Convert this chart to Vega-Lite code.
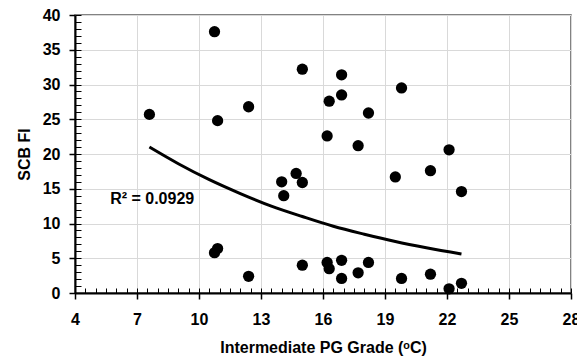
{
  "$schema": "https://vega.github.io/schema/vega-lite/v6.json",
  "width": 496,
  "height": 278,
  "autosize": "none",
  "padding": {"left": 75, "top": 15, "right": 6, "bottom": 69},
  "background": "white",
  "config": {
    "view": {"stroke": "#595959", "strokeWidth": 1.5},
    "font": "Liberation Sans"
  },
  "datasets": {
    "points": [
      {"grade": 7.6, "fi": 25.7}, {"grade": 10.75, "fi": 37.6}, {"grade": 10.9, "fi": 24.8},
      {"grade": 12.4, "fi": 26.8}, {"grade": 15.0, "fi": 32.2}, {"grade": 16.9, "fi": 31.4},
      {"grade": 19.8, "fi": 29.5}, {"grade": 16.3, "fi": 27.6}, {"grade": 16.9, "fi": 28.5},
      {"grade": 18.2, "fi": 25.9}, {"grade": 16.2, "fi": 22.6}, {"grade": 17.7, "fi": 21.2},
      {"grade": 22.1, "fi": 20.6}, {"grade": 14.0, "fi": 16.0}, {"grade": 14.7, "fi": 17.2},
      {"grade": 15.0, "fi": 15.9}, {"grade": 14.1, "fi": 14.0}, {"grade": 19.5, "fi": 16.7},
      {"grade": 21.2, "fi": 17.6}, {"grade": 22.7, "fi": 14.6}, {"grade": 15.0, "fi": 4.0},
      {"grade": 16.2, "fi": 4.4}, {"grade": 16.3, "fi": 3.5}, {"grade": 16.9, "fi": 4.7},
      {"grade": 16.9, "fi": 2.1}, {"grade": 17.7, "fi": 2.9}, {"grade": 18.2, "fi": 4.4},
      {"grade": 19.8, "fi": 2.1}, {"grade": 21.2, "fi": 2.7}, {"grade": 22.1, "fi": 0.6},
      {"grade": 22.7, "fi": 1.4}, {"grade": 10.75, "fi": 5.8}, {"grade": 10.9, "fi": 6.4},
      {"grade": 12.4, "fi": 2.4}
    ],
    "trend": [
      {"grade": 7.6, "fi": 21.0}, {"grade": 9.0, "fi": 18.6}, {"grade": 10.5, "fi": 16.3},
      {"grade": 12.0, "fi": 14.3}, {"grade": 13.5, "fi": 12.5}, {"grade": 15.0, "fi": 11.0},
      {"grade": 16.5, "fi": 9.6}, {"grade": 18.0, "fi": 8.45}, {"grade": 19.5, "fi": 7.4},
      {"grade": 21.0, "fi": 6.5}, {"grade": 22.7, "fi": 5.6}
    ],
    "note": [{"label": "R² = 0.0929", "gx": 5.7, "fy": 13.5}]
  },
  "layer": [
    {
      "data": {"name": "points"},
      "mark": {"type": "circle", "size": 127, "color": "black", "opacity": 1},
      "encoding": {
        "x": {
          "field": "grade", "type": "quantitative",
          "scale": {"domain": [4, 28], "nice": false, "zero": false},
          "axis": {
            "orient": "bottom",
            "values": [4, 7, 10, 13, 16, 19, 22, 25, 28],
            "tickCount": 200, "format": "d",
            "labelOverlap": false,
            "title": "Intermediate PG Grade (ᵒC)",
            "grid": true, "gridColor": "#d9d9d9", "gridWidth": 1,
            "domainColor": "black", "domainWidth": 2,
            "tickColor": "black", "tickWidth": 1.5, "tickSize": 6,
            "labelFont": "Liberation Sans", "labelFontWeight": "bold", "labelFontSize": 16,
            "labelColor": "black", "labelPadding": 12, "labelFlush": false,
            "titleFont": "Liberation Sans", "titleFontSize": 16, "titleFontWeight": "bold",
            "titleColor": "black", "titlePadding": 12
          }
        },
        "y": {
          "field": "fi", "type": "quantitative",
          "scale": {"domain": [0, 40], "nice": false},
          "axis": {
            "orient": "left",
            "values": [0, 5, 10, 15, 20, 25, 30, 35, 40],
            "tickCount": 200, "format": "d",
            "labelOverlap": false,
            "title": "SCB FI",
            "grid": true, "gridColor": "#d9d9d9", "gridWidth": 1,
            "domainColor": "black", "domainWidth": 2,
            "tickColor": "black", "tickWidth": 1.5, "tickSize": 6,
            "labelFont": "Liberation Sans", "labelFontWeight": "bold", "labelFontSize": 16,
            "labelColor": "black", "labelPadding": 9, "labelFlush": false,
            "titleFont": "Liberation Sans", "titleFontSize": 16, "titleFontWeight": "bold",
            "titleColor": "black", "titlePadding": 10
          }
        }
      }
    },
    {
      "data": {"name": "trend"},
      "mark": {"type": "line", "color": "black", "strokeWidth": 3, "interpolate": "monotone"},
      "encoding": {
        "x": {
          "field": "grade", "type": "quantitative",
          "axis": {
            "orient": "bottom", "offset": -5,
            "values": [4, 4.5, 5, 5.5, 6, 6.5, 7, 7.5, 8, 8.5, 9, 9.5, 10, 10.5, 11, 11.5, 12, 12.5, 13, 13.5, 14, 14.5, 15, 15.5, 16, 16.5, 17, 17.5, 18, 18.5, 19, 19.5, 20, 20.5, 21, 21.5, 22, 22.5, 23, 23.5, 24, 24.5, 25, 25.5, 26, 26.5, 27, 27.5, 28],
            "tickCount": 200,
            "title": null, "labels": false, "domain": false, "grid": false, "ticks": true,
            "tickColor": "black", "tickSize": 5, "tickWidth": 1, "tickOpacity": 1
          }
        },
        "y": {
          "field": "fi", "type": "quantitative",
          "axis": {
            "orient": "left", "offset": -6,
            "values": [0, 1, 2, 3, 4, 5, 6, 7, 8, 9, 10, 11, 12, 13, 14, 15, 16, 17, 18, 19, 20, 21, 22, 23, 24, 25, 26, 27, 28, 29, 30, 31, 32, 33, 34, 35, 36, 37, 38, 39, 40],
            "tickCount": 200,
            "title": null, "labels": false, "domain": false, "grid": false, "ticks": true,
            "tickColor": "black", "tickSize": 6, "tickWidth": 1, "tickOpacity": 1
          }
        }
      }
    },
    {
      "data": {"name": "note"},
      "mark": {"type": "text", "align": "left", "baseline": "middle", "font": "Liberation Sans", "fontWeight": "bold", "fontSize": 16, "color": "black"},
      "encoding": {
        "x": {"field": "gx", "type": "quantitative", "axis": null},
        "y": {"field": "fy", "type": "quantitative", "axis": null},
        "text": {"field": "label"}
      }
    }
  ],
  "resolve": {"axis": {"x": "independent", "y": "independent"}}
}
